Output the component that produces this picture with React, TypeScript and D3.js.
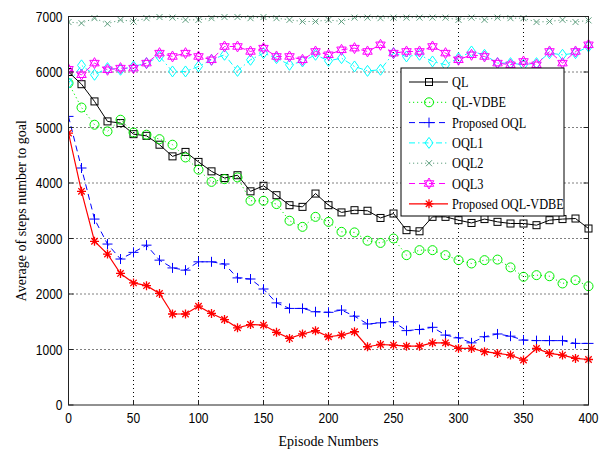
import * as d3 from 'd3';

const episodes = [0, 10, 20, 30, 40, 50, 60, 70, 80, 90, 100, 110, 120, 130, 140, 150, 160, 170, 180, 190, 200,
  210, 220, 230, 240, 250, 260, 270, 280, 290, 300, 310, 320, 330, 340, 350, 360, 370, 380, 390, 400];

const qlData = [6000, 5780, 5470, 5110, 5080, 4880, 4850, 4690, 4480, 4560, 4380, 4210, 4090, 4140, 3850, 3950,
  3780, 3600, 3570, 3810, 3600, 3470, 3510, 3500, 3370, 3450, 3150, 3130, 3390, 3390, 3330, 3280, 3350, 3300,
  3270, 3270, 3240, 3330, 3350, 3360, 3180];
const qlVdbeData = [5800, 5360, 5050, 4930, 5140, 4910, 4870, 4790, 4690, 4460, 4240, 4020, 4070, 4100, 3680,
  3680, 3620, 3320, 3210, 3390, 3300, 3120, 3110, 2960, 2920, 3000, 2700, 2790, 2790, 2700, 2610, 2550, 2610,
  2620, 2480, 2310, 2340, 2320, 2190, 2250, 2140];
const oqlData = [5200, 4270, 3350, 2900, 2630, 2750, 2880, 2610, 2470, 2430, 2580, 2580, 2540, 2290, 2270, 2090,
  1840, 1740, 1740, 1680, 1670, 1710, 1600, 1460, 1480, 1500, 1340, 1360, 1400, 1260, 1210, 1120, 1230, 1280,
  1240, 1170, 1160, 1160, 1160, 1110, 1110];
const oql1Data = [5800, 6120, 5950, 6070, 6040, 6100, 6160, 6280, 6010, 6010, 6100, 6220, 6310, 6020, 6220, 6340,
  6250, 6130, 6190, 6310, 6200, 6250, 6100, 6020, 6040, 6340, 6280, 6310, 6190, 6130, 6250, 6370, 6310, 6160,
  6160, 6130, 6160, 6340, 6310, 6340, 6460];
const oql2Data = [6900, 6880, 6970, 6870, 6940, 6910, 6970, 6990, 6980, 6940, 6940, 6970, 6990, 6990, 6970, 6990,
  6970, 6940, 6910, 6910, 6940, 6910, 6980, 6980, 6970, 6980, 6980, 6980, 6980, 6980, 6940, 6980, 6940, 6980,
  6970, 6970, 6900, 6910, 6940, 6900, 6930];
const oql3Data = [6050, 5950, 6160, 6040, 6070, 6070, 6160, 6340, 6280, 6340, 6280, 6220, 6460, 6460, 6370, 6430,
  6280, 6280, 6220, 6370, 6310, 6400, 6430, 6370, 6490, 6340, 6370, 6370, 6460, 6340, 6220, 6310, 6280, 6160,
  6130, 6190, 6130, 6370, 6160, 6370, 6490];
const oqlVdbeData = [4900, 3850, 2950, 2720, 2370, 2200, 2150, 2010, 1640, 1640, 1780, 1650, 1540, 1390, 1450,
  1440, 1310, 1200, 1280, 1340, 1230, 1260, 1320, 1050, 1090, 1080, 1060, 1060, 1120, 1120, 1020, 1020, 960, 930,
  900, 810, 1020, 930, 900, 840, 820];

const seriesNames = ['QL', 'QL-VDBE', 'Proposed OQL', 'OQL1', 'OQL2', 'OQL3', 'Proposed OQL-VDBE'];
const xTicks = [0, 50, 100, 150, 200, 250, 300, 350, 400];
const yTicks = [0, 1000, 2000, 3000, 4000, 5000, 6000, 7000];

const series = [
  { name: seriesNames[0], values: qlData, color: '#000000', dash: 'none', marker: 'square', width: 1 },
  { name: seriesNames[1], values: qlVdbeData, color: '#00ee00', dash: '1.2,2.8', marker: 'circle', width: 1 },
  { name: seriesNames[2], values: oqlData, color: '#0000ff', dash: '6,4', marker: 'plus', width: 1 },
  { name: seriesNames[3], values: oql1Data, color: '#00ffff', dash: '6,3,1.5,3', marker: 'diamond', width: 1 },
  { name: seriesNames[4], values: oql2Data, color: '#5f9f7f', dash: '1.2,2.8', marker: 'x', width: 1 },
  { name: seriesNames[5], values: oql3Data, color: '#ff00ff', dash: '6,4', marker: 'hexagram', width: 1 },
  { name: seriesNames[6], values: oqlVdbeData, color: '#ff0000', dash: 'none', marker: 'asterisk', width: 1.2 },
];

const width = 607;
const height = 450;
const left = 68.5;
const right = 588.5;
const top = 16.5;
const bottom = 405;

const x = d3.scaleLinear().domain([0, 400]).range([left, right]);
const y = d3.scaleLinear().domain([0, 7000]).range([bottom, top]);

function Marker({ type, cx, cy, color }: { type: string; cx: number; cy: number; color: string }) {
  const p = { stroke: color, fill: 'none', strokeWidth: 1 };
  if (type === 'square') return <rect x={cx - 3.5} y={cy - 3.5} width={7} height={7} {...p} />;
  if (type === 'circle') return <circle cx={cx} cy={cy} r={4.5} {...p} />;
  if (type === 'plus') return <path d={`M${cx - 5},${cy}H${cx + 5}M${cx},${cy - 5}V${cy + 5}`} {...p} />;
  if (type === 'diamond')
    return <path d={`M${cx},${cy - 5.5}L${cx + 4},${cy}L${cx},${cy + 5.5}L${cx - 4},${cy}Z`} {...p} />;
  if (type === 'x') return <path d={`M${cx - 3},${cy - 3}L${cx + 3},${cy + 3}M${cx - 3},${cy + 3}L${cx + 3},${cy - 3}`} {...p} />;
  if (type === 'hexagram') {
    const r = 5.5;
    const tri = (off: number) =>
      d3.range(3).map((i) => {
        const a = off + (i * 2 * Math.PI) / 3;
        return `${cx + r * Math.sin(a)},${cy - r * Math.cos(a)}`;
      });
    return <path d={`M${tri(0).join('L')}ZM${tri(Math.PI).join('L')}Z`} {...p} />;
  }
  // asterisk
  return (
    <path
      d={`M${cx - 4.5},${cy}H${cx + 4.5}M${cx},${cy - 4.5}V${cy + 4.5}M${cx - 3.2},${cy - 3.2}L${cx + 3.2},${cy + 3.2}M${cx - 3.2},${cy + 3.2}L${cx + 3.2},${cy - 3.2}`}
      {...p}
      strokeWidth={1.3}
    />
  );
}

function App() {
  const line = d3
    .line<number>()
    .x((_, i) => x(episodes[i]))
    .y((d) => y(d));

  const tickFont = "'Liberation Sans Narrow', 'Liberation Sans', Arial, sans-serif";
  const serif = "'Liberation Serif', 'Times New Roman', serif";

  const legX = 401;
  const legY = 68;
  const legRow = 20.3;

  return (
    <svg width={width} height={height} style={{ position: 'absolute', left: 0, top: 0, background: '#fff' }}>
      <rect width={width} height={height} fill="#fff" />
      {/* grid */}
      {xTicks.slice(1, -1).map((t) => (
        <line key={'gx' + t} x1={x(t)} x2={x(t)} y1={bottom} y2={top} stroke="#000" strokeDasharray="1,3" />
      ))}
      {yTicks.slice(1, -1).map((t) => (
        <line key={'gy' + t} x1={left} x2={right} y1={y(t)} y2={y(t)} stroke="#000" strokeDasharray="1,3" />
      ))}

      {/* series */}
      <defs>
        <clipPath id="plot">
          <rect x={left} y={top - 6} width={right - left + 6} height={bottom - top + 6} />
        </clipPath>
      </defs>
      <g clipPath="url(#plot)">
        {series.map((s) => (
          <g key={s.name}>
            <path d={line(s.values) || ''} fill="none" stroke={s.color} strokeWidth={s.width}
              strokeDasharray={s.dash === 'none' ? undefined : s.dash} />
            {s.values.map((v, i) => (
              <Marker key={i} type={s.marker} cx={x(episodes[i])} cy={y(v)} color={s.color} />
            ))}
          </g>
        ))}
      </g>

      {/* axes box */}
      <rect x={left} y={top} width={right - left} height={bottom - top} fill="none" stroke="#222" strokeWidth={1} />
      {xTicks.map((t) => (
        <g key={'tx' + t}>
          <line x1={x(t)} x2={x(t)} y1={bottom} y2={bottom - 5} stroke="#222" />
          <line x1={x(t)} x2={x(t)} y1={top} y2={top + 5} stroke="#222" />
          <text transform={`translate(${x(t)},${bottom + 18}) scale(0.8,1)`} textAnchor="middle"
            fontFamily={tickFont} fontSize={15} fill="#000">{t}</text>
        </g>
      ))}
      {yTicks.map((t) => (
        <g key={'ty' + t}>
          <line x1={left} x2={left + 5} y1={y(t)} y2={y(t)} stroke="#222" />
          <line x1={right} x2={right - 5} y1={y(t)} y2={y(t)} stroke="#222" />
          <text transform={`translate(${left - 6},${y(t) + 5}) scale(0.8,1)`} textAnchor="end"
            fontFamily={tickFont} fontSize={15} fill="#000">{t}</text>
        </g>
      ))}

      <text x={(left + right) / 2} y={446} textAnchor="middle" fontFamily={serif} fontSize={14}>Episode Numbers</text>
      <text transform={`translate(26,${(top + bottom) / 2}) rotate(-90)`} textAnchor="middle" fontFamily={serif}
        fontSize={14}>Average of steps number to goal</text>

      {/* legend */}
      <rect x={legX} y={legY} width={163} height={148} fill="#fff" stroke="#000" />
      {series.map((s, i) => {
        const cy = legY + 14 + i * legRow;
        return (
          <g key={'leg' + s.name}>
            <line x1={legX + 8} x2={legX + 47} y1={cy} y2={cy} stroke={s.color} strokeWidth={s.width}
              strokeDasharray={s.dash === 'none' ? undefined : s.dash} />
            <Marker type={s.marker} cx={legX + 28} cy={cy} color={s.color} />
            <text transform={`translate(${legX + 51},${cy + 5}) scale(0.88,1)`} fontFamily={serif} fontSize={14}>
              {s.name}
            </text>
          </g>
        );
      })}
    </svg>
  );
}

export default App;
